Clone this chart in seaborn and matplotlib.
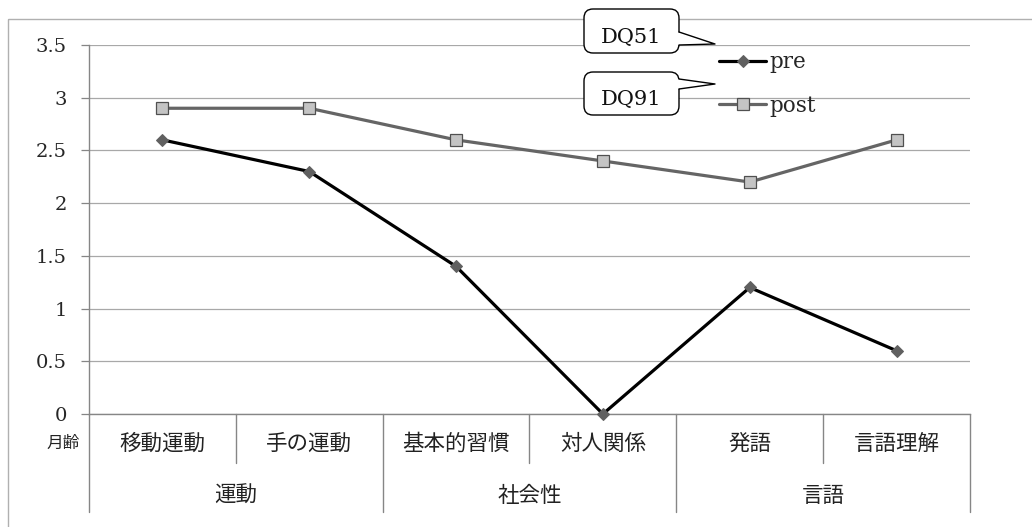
import numpy as np
import pandas as pd
import matplotlib
matplotlib.use("Agg")
import matplotlib.pyplot as plt
import matplotlib.transforms as mtransforms
from matplotlib.patches import FancyBboxPatch, Polygon, Rectangle
from matplotlib.lines import Line2D
import seaborn as sns

# ---- data -------------------------------------------------------------
items = ["移動運動", "手の運動", "基本的習慣", "対人関係", "発語", "言語理解"]
domains = ["運動", "社会性", "言語"]
pre = [2.6, 2.3, 1.4, 0.0, 1.2, 0.6]
post = [2.9, 2.9, 2.6, 2.4, 2.2, 2.6]
series_names = ["pre", "post"]
callout_texts = ["DQ51", "DQ91"]
y_ticks = [0, 0.5, 1, 1.5, 2, 2.5, 3, 3.5]
y_tick_labels = ["0", "0.5", "1", "1.5", "2", "2.5", "3", "3.5"]
corner_label = "月齢"

# ---- style ------------------------------------------------------------
W, H = 1032, 527
sns.set_style("white")
plt.rcParams["font.family"] = ["DejaVu Serif"]
JP = ["Noto Sans CJK JP", "DejaVu Sans"]
GRID = "#a8a8a8"
AXIS = "#868686"

fig = plt.figure(figsize=(W / 100, H / 100), dpi=100)
fig.patch.set_facecolor("white")
ax = fig.add_axes([89 / W, 1 - 414 / H, (970 - 89) / W, (414 - 45) / H])

df = pd.DataFrame({"pos": np.arange(len(items)), "pre": pre, "post": post})

sns.lineplot(data=df, x="pos", y="pre", ax=ax, color="black", lw=2.3,
             marker="D", markersize=6.3, markerfacecolor="#606060",
             markeredgecolor="#606060", label=series_names[0], zorder=4,
             clip_on=False)
sns.lineplot(data=df, x="pos", y="post", ax=ax, color="#656565", lw=2.3,
             marker="s", markersize=9, markerfacecolor="#c4c4c4",
             markeredgecolor="#505050", markeredgewidth=0.9,
             label=series_names[1], zorder=3, clip_on=False)

ax.set_xlim(-0.5, len(items) - 0.5)
ax.set_ylim(0, 3.5)
ax.set_xlabel("")
ax.set_ylabel("")
ax.set_xticks([])
ax.set_yticks(y_ticks)
ax.set_yticklabels(y_tick_labels, fontsize=14)
ax.tick_params(axis="y", direction="out", length=6, width=0.9, color=AXIS,
               pad=10, left=True)
ax.yaxis.grid(True, color=GRID, lw=0.9)
ax.set_axisbelow(True)
for s in ["top", "right"]:
    ax.spines[s].set_visible(False)
for s in ["left", "bottom"]:
    ax.spines[s].set_color(AXIS)
    ax.spines[s].set_linewidth(1.0)

# ---- two-level category axis -----------------------------------------
bt = mtransforms.blended_transform_factory(ax.transData, ax.transAxes)
for i, name in enumerate(items):
    ax.text(i, -0.081, name, transform=bt, ha="center", va="center",
            fontsize=15.5, family=JP, color="#222222")
for j, name in enumerate(domains):
    ax.text(2 * j + 0.5, -0.222, name, transform=bt, ha="center",
            va="center", fontsize=15.5, family=JP, color="#222222")
for k in range(len(items) + 1):
    xb = k - 0.5
    low = -0.266 if k % 2 == 0 else -0.133
    ax.add_line(Line2D([xb, xb], [0, low], transform=bt, color=AXIS,
                       lw=1.0, clip_on=False))

# ---- legend -----------------------------------------------------------
ax.legend(loc="center left", bbox_to_anchor=(719 / W, 1 - 84 / H),
          bbox_transform=fig.transFigure, frameon=False, fontsize=15.5,
          handlelength=2.2, handletextpad=0.15, labelspacing=1.0,
          borderpad=0, borderaxespad=0)

# ---- figure-level decorations (pixel coordinates from top-left) -------
pix = mtransforms.Affine2D().scale(1 / W, -1 / H).translate(0, 1) + fig.transFigure

fig.add_artist(Rectangle((8, 19), 1100, 600, fill=False, edgecolor="#b0b0b0",
                         lw=1.0, transform=pix))

fig.text(63, 443, corner_label, transform=pix, ha="center", va="center",
         fontsize=12, family=JP, color="#222222")

boxes = [
    dict(y0=9, y1=53, base=(32, 45), tip=(715, 44), ty=38),
    dict(y0=72, y1=115, base=(79, 89), tip=(715, 84), ty=99),
]
for txt, b in zip(callout_texts, boxes):
    x0, x1 = 584, 679
    fig.add_artist(FancyBboxPatch((x0, b["y0"]), x1 - x0, b["y1"] - b["y0"],
                                  boxstyle="round,pad=0,rounding_size=9",
                                  facecolor="white", edgecolor="black",
                                  lw=1.0, transform=pix, zorder=5))
    ya, yb = b["base"]
    fig.add_artist(Polygon([(x1 - 2, ya), b["tip"], (x1 - 2, yb)],
                           closed=True, facecolor="white", edgecolor="none",
                           transform=pix, zorder=6))
    fig.add_artist(Line2D([x1, b["tip"][0], x1], [ya, b["tip"][1], yb],
                          color="black", lw=1.0, transform=pix, zorder=7))
    fig.text(631, b["ty"], txt, transform=pix, ha="center", va="center",
             fontsize=15, color="#111111", zorder=8)

fig.savefig("out.png", dpi=100)
